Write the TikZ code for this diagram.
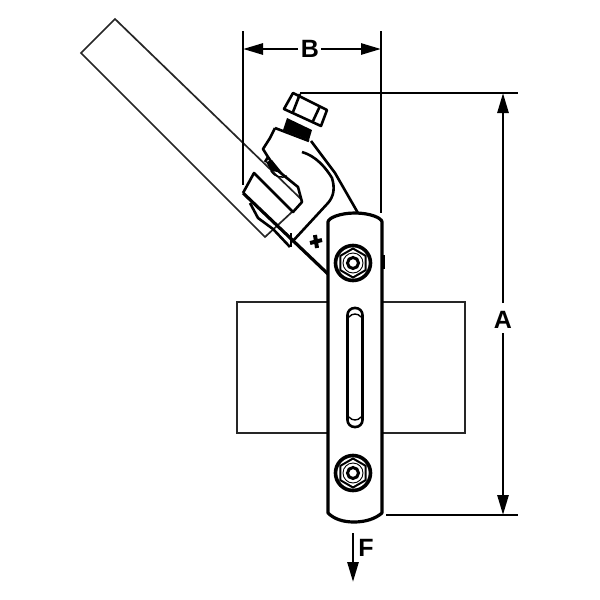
\documentclass[tikz,border=0pt]{standalone}
\usepackage{fontspec}
\setmainfont{Liberation Sans}
\usetikzlibrary{arrows.meta}
\tikzset{
  thinline/.style={line width=1.7pt,draw=black!85},
  heavy/.style={line width=3.2pt,draw=black,line join=round},
  medium/.style={line width=2.6pt,draw=black,line join=round},
  dimline/.style={line width=2.7pt,draw=black},
  dimarrow/.style={line width=2.7pt,draw=black,-{Triangle[length=20pt,width=11pt]}},
  dimlabel/.style={font=\fontsize{25}{25}\selectfont\bfseries,inner sep=0pt,text=black},
}
\newcommand{\boltsym}[1]{%
  \begin{scope}[shift={#1}]
    \draw[line width=3.6pt,fill=white] (0,0) circle (17.5);
    \draw[line width=2pt] (0,-14.5)--(12.6,-7.2)--(12.6,7.2)--(0,14.5)--(-12.6,7.2)--(-12.6,-7.2)--cycle;
    \draw[line width=0.9pt] (0,0) circle (10);
    \draw[line width=3pt] (0,0) circle (5.5);
  \end{scope}}
\begin{document}
\begin{tikzpicture}[x=1pt,y=-1pt]
\useasboundingbox (0,0) rectangle (600,600);
% plate
\draw[thinline] (237,302) rectangle (465,433);
% conductor
\draw[thinline] (302,200) -- (115,19) -- (81,53) -- (265,237) -- (292,212);
% dimension extension lines
\draw[dimline] (243,31) -- (243,185);
\draw[dimline] (381,31) -- (381,213);
\draw[dimline] (300,93) -- (518,93);
\draw[dimline] (386,515) -- (518,515);
% labels
\node[dimlabel] (labB) at (310,49) {B};
\node[dimlabel] (labA) at (503,320) {A};
\node[dimlabel] (labF) at (366,548) {F};
% dimension arrows
\coordinate (bl) at (243,49);
\coordinate (br) at (381,49);
\coordinate (at) at (503,93);
\coordinate (ab) at (503,515);
\coordinate (fs) at (353,533);
\coordinate (fe) at (353,582);
\draw[dimarrow] (298,49) -- (bl);
\draw[dimarrow] (321,49) -- (br);
\draw[dimarrow] (503,303) -- (at);
\draw[dimarrow] (503,333) -- (ab);
\draw[dimarrow] (fs) -- (fe);
% flag line to strap
\draw[heavy] (243,193) -- (328,274);
% bolt head
\draw[medium,fill=white] (293,93) -- (327,110) -- (321,126) -- (284,109) -- cycle;
\draw[medium] (300,94) -- (293,112);
\draw[medium] (320,106) -- (313,121);
% threads
\fill[black] (287,118) -- (312,130) -- (309,140) -- (283,130) -- cycle;
% clamp body
\draw[medium] (275,128) -- (309,141);
\draw[medium] (275,128) -- (270,138) -- (263,149) -- (268,157) -- (265,162);
\draw[medium] (311,141) -- (323,157) -- (335,173) -- (358,213);
\draw[medium] (268,157) -- (277,170) -- (298,187) -- (302,202) -- (293,212) -- (254,173) -- (243,193);
\fill[black] (266,162) -- (272,160) -- (285,176) -- (278,172) -- (271,171) -- cycle;
\draw[line width=1.5pt] (271,171) .. controls (276,178) and (282,178) .. (287,176);
\draw[medium] (250,203) -- (258,218) -- (273,229) -- (290,247);
\draw[medium] (302,152) .. controls (316,156) and (326,168) .. (332,178)
  .. controls (335,188) and (334,196) .. (328,203) -- (292,242);
\draw[medium] (291,233) -- (291,247);
% plus mark
\draw[line width=4pt] (310,243) -- (322,240);
\draw[line width=4pt] (315,235) -- (317,248);
% strap
\draw[heavy,fill=white] (328,222) .. controls (328,218) and (340,213) .. (355,213)
  .. controls (370,213) and (382,218) .. (382,222)
  -- (382,513) .. controls (375,519) and (365,522) .. (354,522)
  .. controls (343,522) and (334,519) .. (328,513) -- cycle;
\fill[black] (381,255) rectangle (385,269);
% slot
\draw[medium,rounded corners=7pt] (347.5,308) rectangle (362.5,427);
\draw[line width=1.4pt] (349,317) .. controls (352,313) and (358,313) .. (361,317);
\draw[line width=1.4pt] (349,417) .. controls (352,421) and (358,421) .. (361,417);
% bolts
\boltsym{(353,263)}
\boltsym{(353,473)}
\end{tikzpicture}
\end{document}
